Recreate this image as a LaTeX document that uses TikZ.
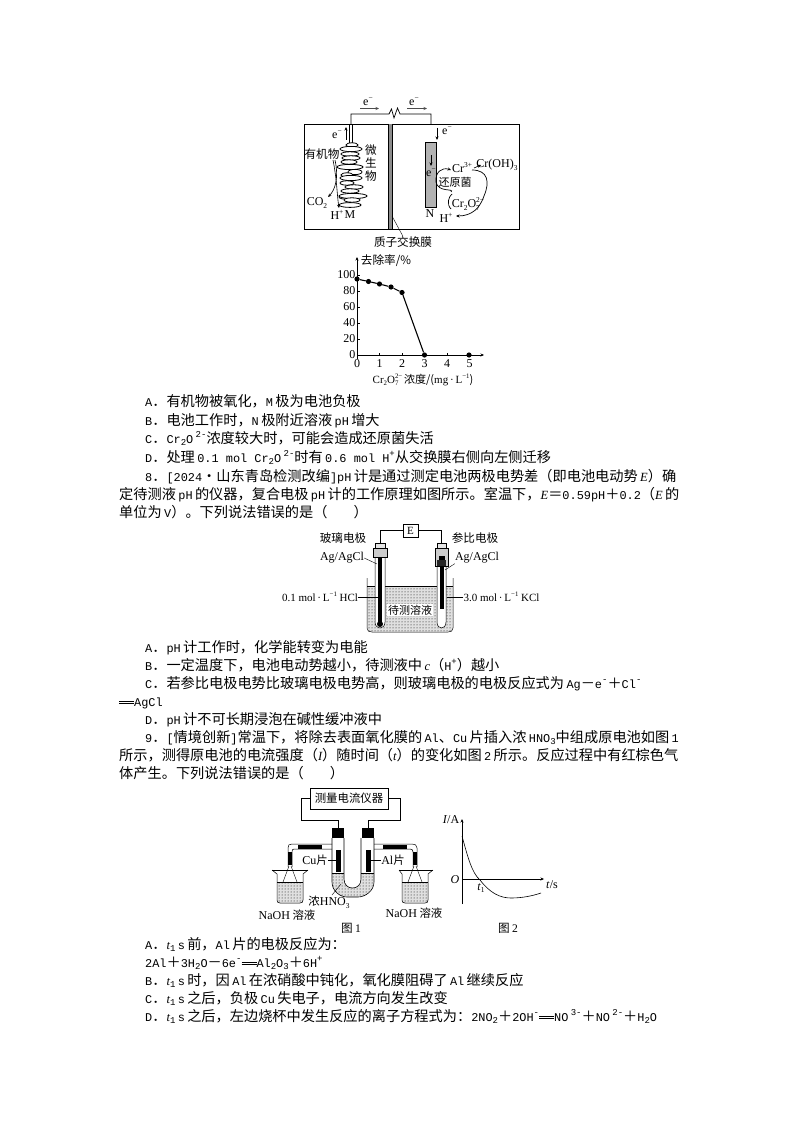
\documentclass[tikz,border=0pt]{standalone}
\usepackage{fontspec}
\usetikzlibrary{patterns,arrows.meta}
\setmainfont{Liberation Serif}
\newfontfamily\cjk{Noto Sans CJK SC}
\newfontfamily\mon{Liberation Mono}
\newfontfamily\serif{Liberation Serif}
\newcommand{\mm}[1]{{\fontsize{11.9}{11.9}\mon #1}}
\newcommand{\mi}[1]{{\fontsize{12.5}{12.5}\serif\itshape #1}}
\newcommand{\kup}[1]{\raisebox{0.42em}{\fontsize{0.62em}{0.62em}\selectfont #1}}
\newcommand{\kdn}[1]{\raisebox{-0.22em}{\fontsize{0.62em}{0.62em}\selectfont #1}}
\newcommand{\mup}[1]{\raisebox{0.42em}{\fontsize{9}{9}\mon #1}}
\newcommand{\mdn}[1]{\raisebox{-0.2em}{\fontsize{9}{9}\mon #1}}
\newcommand{\kud}[2]{\rlap{\kdn{#1}}\kup{#2}}
\newcommand{\eqq}{\rlap{\rule[2pt]{15pt}{0.7pt}}\rule[4.6pt]{15pt}{0.7pt}}
\newcommand{\bodyline}[4]{\node[bodytext] (#1) at (#2,#3) {#4};}
\tikzset{
  bodytext/.style={anchor=base west,inner sep=0pt,font=\fontsize{14.2}{14.2}\cjk},
  lab/.style={inner sep=0pt,font=\fontsize{12}{12}\serif},
  clab/.style={inner sep=0pt,font=\fontsize{11.6}{11.6}\cjk},
  wire/.style={line width=0.7pt},
  tip/.style={-{Stealth[length=3.5pt,width=3pt]},line width=0.6pt},
  mic/.style={draw,fill=white,line width=0.8pt},
  dot/.style={circle,fill=black,inner sep=0pt,minimum size=5.2pt},
  liquid/.style={pattern=dots,pattern color=black},
  liqbase/.style={fill=black!12},
}
\begin{document}
\begin{tikzpicture}[x=1pt,y=-1pt]
\useasboundingbox (0,0) rectangle (794,1123);
\fill[white] (0,0) rectangle (794,1123);

% ---------- diagram 1: cell
\coordinate (wl) at (351,124); \coordinate (wr) at (431,124);
\draw[line width=0.8pt] (304.5,124) rectangle (519.5,229);
\fill[black!45] (388,124) rectangle (392,229);
\draw[line width=0.5pt] (388,124) -- (388,229) (392,124) -- (392,229);
\draw[wire] (wl) -- (351,114) -- (389,114) -- (391.5,109) -- (394,118) -- (397.5,108) -- (400,114) -- (431,114) -- (wr);
\node[lab] (e1) at (368,102) {e\kup{−}};
\node[lab] (e2) at (414,102) {e\kup{−}};
\draw[-{Stealth[length=3.5pt,width=3pt]},black!70,line width=0.9pt] (360,108.5) -- (379,108.5);
\draw[-{Stealth[length=3.5pt,width=3pt]},black!70,line width=0.9pt] (407,108.5) -- (427,108.5);
\draw[line width=0.6pt] (349.5,124) -- (349.5,143) (352.5,124) -- (352.5,143);
% microbes
\fill[black!30] (346,200) rectangle (353,207);
\foreach \cx/\cy/\rx/\ry in {352/145/6/2.2, 351/149/11/2.6, 350/154/9/2.2, 351/158/9/2.2, 349/162/8/2.2, 350/167/13/2.6, 355/172/7/2.6, 347/175/6/2.2, 351/178/11/2.6, 347/183/7/2.2, 354/187/9/2.2, 350/191/9/2.2, 346/197/7/2.2, 353/196/14/2.6, 352/200/8/2.2, 350/205/11/2.4}
  \draw[mic] (\cx,\cy) ellipse ({\rx} and {\ry});
\node[lab] (e3) at (337,135) {e\kup{−}};
\draw[tip] (346,140) -- (346,127);
\node[clab] (org) at (322,154) {有机物};
\node[clab,align=center,font=\fontsize{11.6}{13}\cjk] (mw) at (371,163) {微\\生\\物};
\node[lab] (co2) at (317,203) {CO\kdn{2}};
\node[lab] (hm) at (337,215) {H\kup{+}};
\node[lab] (mm) at (350,215) {M};
\draw[tip] (335,160) .. controls (339,178) and (335,190) .. (328,197);
\draw[tip] (333,160) .. controls (337,180) and (337,195) .. (339,208);
% right electrode
\draw[fill=black!30,line width=0.5pt] (425,142) rectangle (436,207);
\draw[tip] (437,128) -- (437,140);
\node[lab] (e4) at (447,131) {e\kup{−}};
\draw[tip] (431,155) -- (431,166);
\node[lab] (e5) at (431,173) {e\kup{−}};
\node[lab] (nn) at (430,214) {N};
\node[lab] (cr3) at (462,168) {Cr\kup{3+}};
\node[lab] (croh) at (497,165) {Cr(OH)\kdn{3}};
\node[clab,font=\fontsize{11}{11}\cjk] (hy) at (455,182.5) {还原菌};
\node[lab] (cro) at (468,204) {Cr\kdn{2}O\kud{7}{2−}};
\node[lab] (hh) at (446,218) {H\kup{+}};
\draw[tip] (474,168) -- (481,165);
\draw[tip,line width=0.7pt] (451,192) .. controls (455,188) and (438,193) .. (436,182) .. controls (435,172) and (442,167) .. (451,170);
\draw[tip,line width=0.7pt] (472,170) .. controls (488,170) and (490,182) .. (484,196) .. controls (480,208) and (472,216) .. (456,216);
\draw[line width=0.7pt] (451,209) .. controls (446,204) and (449,196) .. (452,194);
\node[clab] (mem) at (403,242) {质子交换膜};
\coordinate (memtip) at (392,216);
\draw[line width=0.4pt] (memtip) -- (mem.north);

% ---------- chart
\coordinate (o) at (357,355);
\draw[-{Stealth[length=3.5pt,width=3pt]},line width=0.6pt] (357,359) -- (357,257);
\draw[-{Stealth[length=3.5pt,width=3pt]},line width=0.6pt] (o) -- (484,355);
\foreach \v/\lb in {0/0,20/20,40/40,60/60,80/80,100/100}{
  \draw[line width=0.5pt] (357,355-\v*0.8) -- (360,355-\v*0.8);
  \node[lab,anchor=east] (yt\v) at (355.5,355-\v*0.8) {\lb};}
\foreach \v in {0,...,5}{
  \draw[line width=0.5pt] (357+\v*22.5,355) -- (357+\v*22.5,352.5);
  \node[lab] (xt\v) at (357+\v*22.5,364) {\v};}
\node[dot] (p0) at (357,279) {}; \node[dot] (p1) at (368.5,281.5) {}; \node[dot] (p2) at (379.5,284) {};
\node[dot] (p3) at (391,287) {}; \node[dot] (p4) at (402,292.5) {}; \node[dot] (p5) at (424.5,355) {}; \node[dot] (p6) at (469,355) {};
\draw[line width=1.1pt] (p0) -- (p1) -- (p2) -- (p3) -- (p4) -- (p5);
\node[clab] (yl) at (386,261) {去除率/\%};
\node[clab,font=\fontsize{11}{11}\cjk] (xl) at (423,380) {{\serif Cr\kdn{2}O\kud{7}{2−}}\,浓度/({\serif mg\,·\,L\kup{−1}})};

% ---------- text block 1
\bodyline{a1}{145}{406}{\mm{A}．有机物被氧化，\mm{M}\,极为电池负极}
\bodyline{a2}{145}{425}{\mm{B}．电池工作时，\mm{N}\,极附近溶液\,\mm{pH}\,增大}
\bodyline{a3}{145}{443}{\mm{C}．\mm{Cr}\mdn{2}\mm{O}\,\mup{2-}浓度较大时，可能会造成还原菌失活}
\bodyline{a4}{145}{462}{\mm{D}．处理\,\mm{0.1 mol Cr}\mdn{2}\mm{O}\,\mup{2-}时有\,\mm{0.6 mol H}\mup{+}从交换膜右侧向左侧迁移}
\bodyline{a5}{145}{481}{\mm{8}．\mm{[2024}·山东青岛检测改编\mm{]pH}\,计是通过测定电池两极电势差（即电池电动势\,\mi{E}）确}
\bodyline{a6}{119}{499}{定待测液\,\mm{pH}\,的仪器，复合电极\,\mm{pH}\,计的工作原理如图所示。室温下，\mi{E}＝\mm{0.59pH}＋\mm{0.2}（\mi{E}\,的}
\bodyline{a7}{119}{517}{单位为\,\mm{V}）。下列说法错误的是（\hspace{26pt}）}

% ---------- diagram 2: pH meter
\node[draw,line width=0.6pt,inner sep=0pt,minimum width=15pt,minimum height=13pt,font=\fontsize{11}{11}\serif] (E) at (410.5,530.5) {E};
\coordinate (cl) at (380,543); \coordinate (cr) at (441.5,543);
\draw[wire] (E.west) -| (cl);
\draw[wire] (E.east) -| (cr);
\fill[liqbase] (367.5,586) -- (452.5,586) -- (452.5,628) .. controls (452.5,631) and (451,631.5) .. (448,631.5) -- (372,631.5) .. controls (369,631.5) and (367.5,631) .. (367.5,628) -- cycle;
\fill[liquid] (367.5,586) -- (452.5,586) -- (452.5,628) .. controls (452.5,631) and (451,631.5) .. (448,631.5) -- (372,631.5) .. controls (369,631.5) and (367.5,631) .. (367.5,628) -- cycle;
\draw[line width=0.5pt] (367,578) -- (367,628) .. controls (367,631) and (369,632) .. (372,632) -- (448,632) .. controls (451,632) and (453,631) .. (453,628) -- (453,578);
\draw[line width=0.4pt] (367,586) -- (453,586);
% left electrode
\draw[fill=white,line width=0.5pt] (375,557) -- (385,557) -- (385,622) .. controls (385,630) and (375,630) .. (375,622) -- cycle;
\fill[black] (377.8,557) rectangle (382.2,624);
\fill[black] (380,624) circle (3);
\draw[fill=black!20,line width=0.5pt] (373,548) rectangle (387,557);
\draw[fill=black!10,line width=0.5pt] (375,543) rectangle (385,548);
% right electrode
\draw[fill=white,line width=0.5pt] (437,566) -- (446,566) -- (446,622) .. controls (446,630) and (437,630) .. (437,622) -- cycle;
\fill[black] (439.8,566) rectangle (443.8,609);
\draw[fill=black!20,line width=0.5pt] (435,548) rectangle (448,566);
\draw[fill=black!10,line width=0.5pt] (437,543) rectangle (446,548);
\fill[black!85] (437,560) rectangle (446,566);
\fill[black] (438.5,556) rectangle (445,560);
\node[fill=white,inner sep=1pt,font=\fontsize{11}{11}\cjk] (dc) at (410,610) {待测溶液};
\node[clab] (bl) at (343,538) {玻璃电极};
\node[clab] (cb) at (475,538) {参比电极};
\node[lab] (ag1) at (342,558) {Ag/AgCl};
\node[lab] (ag2) at (477,558) {Ag/AgCl};
\node[lab,font=\fontsize{11}{11}\serif] (hcl) at (320,597) {0.1 mol\,·\,L\kup{−1} HCl};
\node[lab,font=\fontsize{11}{11}\serif] (kcl) at (501.5,597) {3.0 mol\,·\,L\kup{−1} KCl};
\coordinate (g1) at (377,564); \coordinate (g2) at (445,570); \coordinate (g3) at (378,597); \coordinate (g4) at (447,597);
\draw[line width=0.4pt] (ag1.east) -- (g1);
\draw[line width=0.4pt] (ag2.south west) -- (g2);
\draw[line width=0.4pt] (hcl.east) -- (g3);
\draw[line width=0.4pt] (kcl.west) -- (g4);

% ---------- text block 2
\bodyline{b1}{145}{652}{\mm{A}．\mm{pH}\,计工作时，化学能转变为电能}
\bodyline{b2}{145}{670}{\mm{B}．一定温度下，电池电动势越小，待测液中\,\mi{c}（\mm{H}\mup{+}）越小}
\bodyline{b3}{145}{688}{\mm{C}．若参比电极电势比玻璃电极电势高，则玻璃电极的电极反应式为\,\mm{Ag}－\mm{e}\mup{-}＋\mm{Cl}\mup{-}}
\bodyline{b4}{119}{706}{\eqq\mm{AgCl}}
\bodyline{b5}{145}{724}{\mm{D}．\mm{pH}\,计不可长期浸泡在碱性缓冲液中}
\bodyline{b6}{145}{742}{\mm{9}．\mm{[}情境创新\mm{]}常温下，将除去表面氧化膜的\,\mm{Al}、\mm{Cu}\,片插入浓\,\mm{HNO}\mdn{3}中组成原电池如图\,\mm{1}}
\bodyline{b7}{119}{760}{所示，测得原电池的电流强度（\mi{I}）随时间（\mi{t}）的变化如图\,\mm{2}\,所示。反应过程中有红棕色气}
\bodyline{b8}{119}{778}{体产生。下列说法错误的是（\hspace{26pt}）}

% ---------- diagram 3: Fig 1
\node[draw,line width=0.7pt,minimum width=78pt,minimum height=21pt,inner sep=0pt,font=\fontsize{11.4}{11.4}\cjk] (meter) at (349,798.5) {测量电流仪器};
\coordinate (s1) at (338,828); \coordinate (s2) at (368,828);
\draw[wire] (meter.west) -- (301,798.5) -- (301,820) -- (338,820) -- (s1);
\draw[wire] (meter.east) -- (400,798.5) -- (400,820) -- (368,820) -- (s2);
% U tube
\fill[liqbase] (332.5,873) -- (343.5,873) -- (343.5,879) .. controls (343.5,885) and (348,888) .. (352.5,888) .. controls (357,888) and (361.5,885) .. (361.5,879) -- (361.5,873) -- (373.5,873) -- (373.5,882) .. controls (373.5,891) and (364,897) .. (358,897) -- (347,897) .. controls (340,897) and (332.5,891) .. (332.5,882) -- cycle;
\fill[liquid] (332.5,873) -- (343.5,873) -- (343.5,879) .. controls (343.5,885) and (348,888) .. (352.5,888) .. controls (357,888) and (361.5,885) .. (361.5,879) -- (361.5,873) -- (373.5,873) -- (373.5,882) .. controls (373.5,891) and (364,897) .. (358,897) -- (347,897) .. controls (340,897) and (332.5,891) .. (332.5,882) -- cycle;
\draw[line width=0.6pt] (332,838) -- (332,882) .. controls (332,891) and (340,897) .. (347,897) -- (358,897) .. controls (365,897) and (374,891) .. (374,882) -- (374,838);
\draw[line width=0.6pt] (344,838) -- (344,879) .. controls (344,885) and (348,888) .. (352.5,888) .. controls (357,888) and (361,885) .. (361,879) -- (361,838);
\fill[black] (332,828) rectangle (344,838);
\fill[black] (362,828) rectangle (374,838);
\draw[line width=0.4pt] (332,873) -- (344,873) (361,873) -- (374,873);
\fill[black] (336,850) rectangle (341,872);
\fill[black] (366,850) rectangle (371,872);
% side arms
\draw[line width=0.5pt] (332,844) -- (292,844) .. controls (289,844) and (288,845) .. (288,848) -- (288,867);
\draw[line width=0.5pt] (332,849) -- (294,849) .. controls (292.5,849) and (292,850) .. (292,852) -- (292,867);
\fill[black] (298,844.5) rectangle (322,849);
\fill[black] (288,852) rectangle (292,865);
\draw[line width=0.5pt] (374,844) -- (412,844) .. controls (415,844) and (417,845) .. (417,848) -- (417,867);
\draw[line width=0.5pt] (374,849) -- (410,849) .. controls (412,849) and (413,850) .. (413,852) -- (413,867);
\fill[black] (383,844.5) rectangle (407,849);
\fill[black] (413,852) rectangle (417,865);
% beakers
\fill[liqbase] (277.5,882) rectangle (302.5,902.5);
\fill[liquid] (277.5,882) rectangle (302.5,902.5);
\draw[line width=0.5pt] (272,870) -- (277,874) -- (277,900) .. controls (277,902) and (278,903) .. (280,903) -- (300,903) .. controls (302,903) and (303,902) .. (303,900) -- (303,874) -- (308,870);
\draw[line width=0.4pt] (272,870) -- (308,870);
\draw[line width=0.4pt] (277,882) -- (303,882);
\draw[line width=0.4pt] (283,882) -- (289,866) (297,882) -- (291,866);
\fill[liqbase] (402.5,882) rectangle (427.5,902.5);
\fill[liquid] (402.5,882) rectangle (427.5,902.5);
\draw[line width=0.5pt] (399,870) -- (402,874) -- (402,900) .. controls (402,902) and (403,903) .. (405,903) -- (425,903) .. controls (427,903) and (428,902) .. (428,900) -- (428,874) -- (433,870);
\draw[line width=0.4pt] (399,870) -- (433,870);
\draw[line width=0.4pt] (402,882) -- (428,882);
\draw[line width=0.4pt] (408,882) -- (414,866) (422,882) -- (416,866);
\node[clab,font=\fontsize{11.4}{11.4}\cjk] (cu) at (315,860) {{\fontsize{12}{12}\serif Cu}片};
\node[clab,font=\fontsize{11.4}{11.4}\cjk] (al) at (393,860) {{\fontsize{12}{12}\serif Al}片};
\coordinate (g5) at (337,860); \coordinate (g6) at (370,860); \coordinate (g7) at (332,895); \coordinate (g8) at (341,884);
\draw[line width=0.4pt] (cu.east) -- (g5);
\draw[line width=0.4pt] (al.west) -- (g6);
\node[clab,font=\fontsize{11.4}{11.4}\cjk] (hno) at (329,902) {浓{\fontsize{12}{12}\serif HNO\kdn{3}}};
\draw[line width=0.4pt] (g7) -- (g8);
\node[clab,font=\fontsize{11.4}{11.4}\cjk] (na1) at (287,915) {{\fontsize{12}{12}\serif NaOH} 溶液};
\node[clab,font=\fontsize{11.4}{11.4}\cjk] (na2) at (414,913) {{\fontsize{12}{12}\serif NaOH} 溶液};
\node[clab] (f1) at (351,928) {图 {\serif 1}};

% ---------- Fig 2
\coordinate (og) at (462,879);
\draw[-{Stealth[length=3.5pt,width=3pt]},line width=0.6pt] (462,904) -- (462,819);
\draw[-{Stealth[length=3.5pt,width=3pt]},line width=0.6pt] (og) -- (544,879);
\draw[line width=0.6pt] (462,836) .. controls (468,858) and (472,873) .. (480,880) .. controls (490,893) and (500,898) .. (511,898) .. controls (522,898) and (532,896) .. (541,893);
\node[lab] (ia) at (451,820) {\textit{I}/A};
\node[lab] (og2) at (455,880) {\textit{O}};
\node[lab] (t1) at (481,888) {\textit{t}\kdn{1}};
\node[lab] (ts) at (552,885) {\textit{t}/s};
\node[clab] (f2) at (508,928) {图 {\serif 2}};

% ---------- text block 3
\bodyline{c1}{145}{949}{\mm{A}．\mi{t}\mdn{1}\,\mm{s}\,前，\mm{Al}\,片的电极反应为：}
\bodyline{c2}{145}{967}{\mm{2Al}＋\mm{3H}\mdn{2}\mm{O}－\mm{6e}\mup{-}\eqq\mm{Al}\mdn{2}\mm{O}\mdn{3}＋\mm{6H}\mup{+}}
\bodyline{c3}{145}{985}{\mm{B}．\mi{t}\mdn{1}\,\mm{s}\,时，因\,\mm{Al}\,在浓硝酸中钝化，氧化膜阻碍了\,\mm{Al}\,继续反应}
\bodyline{c4}{145}{1003}{\mm{C}．\mi{t}\mdn{1}\,\mm{s}\,之后，负极\,\mm{Cu}\,失电子，电流方向发生改变}
\bodyline{c5}{145}{1021}{\mm{D}．\mi{t}\mdn{1}\,\mm{s}\,之后，左边烧杯中发生反应的离子方程式为：\mm{2NO}\mdn{2}＋\mm{2OH}\mup{-}\eqq\mm{NO}\,\mup{3-}＋\mm{NO}\,\mup{2-}＋\mm{H}\mdn{2}\mm{O}}
\end{tikzpicture}
\end{document}
